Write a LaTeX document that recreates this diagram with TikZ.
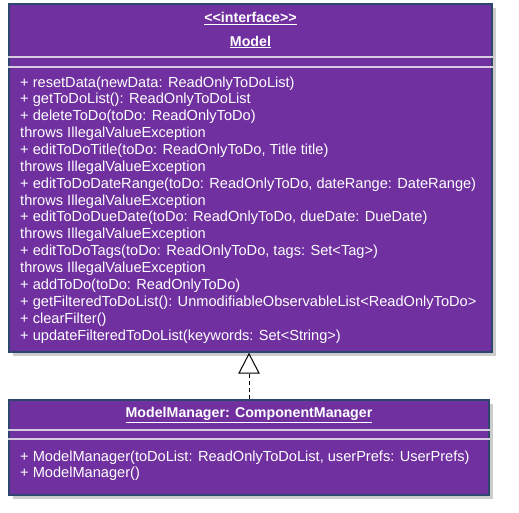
\documentclass[tikz,border=0pt]{standalone}
\usepackage{fontspec}
\setmainfont{Liberation Sans}
\usetikzlibrary{arrows.meta,shadows}

\definecolor{umlfill}{RGB}{112,48,160}
\definecolor{umledge}{RGB}{45,70,110}
\definecolor{umlsep}{RGB}{214,204,226}

\tikzset{
  classbox/.style={draw=umledge, line width=1.4pt, fill=umlfill, inner sep=0pt,
    general shadow={shadow xshift=3.5pt, shadow yshift=-3.5pt, fill=black!20}},
  sepline/.style={draw=umlsep, line width=2pt},
  titletext/.style={text=white, font=\fontsize{14.2}{17}\selectfont\bfseries, anchor=base},
  optext/.style={text=white, font=\fontsize{14.6}{17}\selectfont, anchor=base west, inner sep=0pt},
  realize/.style={dashed, dash pattern=on 4pt off 3pt, line width=1pt,
    -{Triangle[open, length=21pt, width=21.5pt, line width=1pt]}}
}

\begin{document}
\begin{tikzpicture}[x=1pt, y=-1pt]
    \useasboundingbox (0,0) rectangle (519,512);

    % interface Model
    \node[classbox, minimum width=483pt, minimum height=348pt] (model) at (250.5,178) {};
    \node[titletext] (modelstereo) at (250.5,22.5) {\underline{{<}{<}interface{>}{>}}};
    \node[titletext] (modelname) at (250.5,46) {\underline{Model}};
    \draw[sepline] (model.west |- 0,56.5) -- (model.east |- 0,56.5);
    \draw[sepline] (model.west |- 0,66.5) -- (model.east |- 0,66.5);

    % operations of Model
    \foreach \op [count=\i from 0] in {
        {+ resetData(newData: ReadOnlyToDoList)},
        {+ getToDoList(): ReadOnlyToDoList},
        {+ deleteToDo(toDo: ReadOnlyToDo)},
        {throws IllegalValueException},
        {+ editToDoTitle(toDo: ReadOnlyToDo, Title title)},
        {throws IllegalValueException},
        {+ editToDoDateRange(toDo: ReadOnlyToDo, dateRange: DateRange)},
        {throws IllegalValueException},
        {+ editToDoDueDate(toDo: ReadOnlyToDo, dueDate: DueDate)},
        {throws IllegalValueException},
        {+ editToDoTags(toDo: ReadOnlyToDo, tags: Set<Tag>)},
        {throws IllegalValueException},
        {+ addToDo(toDo: ReadOnlyToDo)},
        {+ getFilteredToDoList(): UnmodifiableObservableList<ReadOnlyToDo>},
        {+ clearFilter()},
        {+ updateFilteredToDoList(keywords: Set<String>)}}
      \node[optext] (modelop\i) at (20, 87+16.87*\i) {\op};

    % class ModelManager
    \node[classbox, minimum width=480pt, minimum height=95pt] (manager) at (249,447.5) {};
    \node[titletext] (managername) at (249,417.5) {\underline{ModelManager: ComponentManager}};
    \draw[sepline] (manager.west |- 0,429.5) -- (manager.east |- 0,429.5);
    \draw[sepline] (manager.west |- 0,439) -- (manager.east |- 0,439);
    \node[optext] (managerop1) at (20,461) {+ ModelManager(toDoList: ReadOnlyToDoList, userPrefs: UserPrefs)};
    \node[optext] (managerop2) at (20,477.5) {+ ModelManager()};

    % realization
    \draw[realize] (manager.north) -- (manager.north |- model.south);
\end{tikzpicture}
\end{document}
